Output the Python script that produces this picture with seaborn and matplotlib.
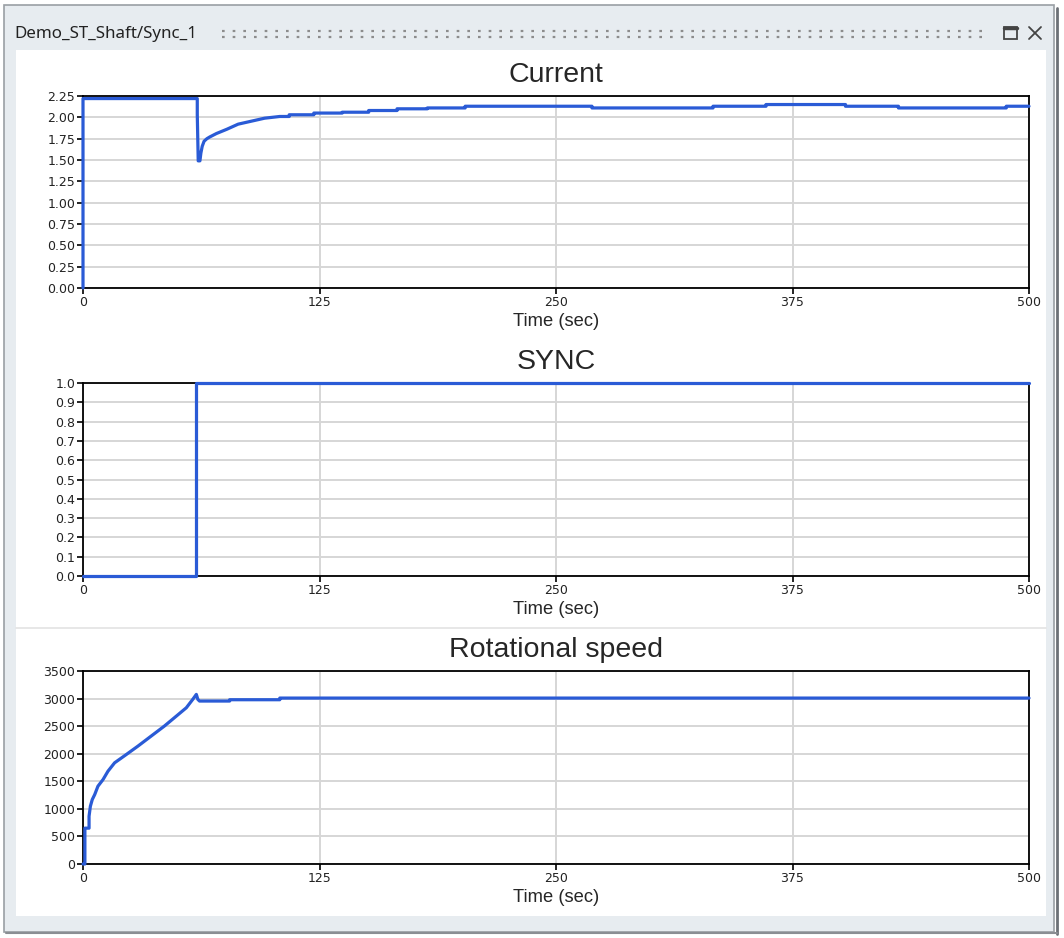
import numpy as np
import pandas as pd
import matplotlib
matplotlib.use("Agg")
import matplotlib.pyplot as plt
from matplotlib.lines import Line2D
from matplotlib.patches import Rectangle
import seaborn as sns

# ---- data (repeated times = vertical steps) ----
current_t = [0, 0, 60.4, 60.4, 60.9, 61.8, 62.3, 63.0, 64.0, 65.5, 67.0, 70.5, 76.0,
             82.0, 90.0, 96.0, 104.0, 109.0, 109.0, 122.0, 122.0, 137.0, 137.0, 151.0,
             151.0, 166.0, 166.0, 182.0, 182.0, 202.0, 202.0, 269.0, 269.0, 333.0,
             333.0, 361.0, 361.0, 403.0, 403.0, 431.0, 431.0, 488.0, 488.0, 500.0]
current_v = [0.0, 2.22, 2.22, 2.03, 1.49, 1.49, 1.58, 1.66, 1.72, 1.75, 1.77, 1.81, 1.86,
             1.92, 1.96, 1.99, 2.01, 2.01, 2.03, 2.03, 2.05, 2.05, 2.06, 2.06,
             2.08, 2.08, 2.10, 2.10, 2.11, 2.11, 2.13, 2.13, 2.11, 2.11,
             2.13, 2.13, 2.15, 2.15, 2.13, 2.13, 2.11, 2.11, 2.13, 2.13]

sync_t = [0, 59.8, 59.8, 500]
sync_v = [0.0, 0.0, 1.0, 1.0]

speed_t = [0, 1.0, 1.0, 3.2, 3.2, 3.9, 4.9, 6.2, 7.9, 10.6, 13.2, 16.7, 22.9, 29.0, 36.0,
           43.0, 49.3, 54.6, 58.0, 59.9, 60.7, 61.6, 77.5, 77.5, 104.0, 104.0, 500.0]
speed_v = [0, 0, 650, 650, 866, 1048, 1169, 1260, 1411, 1532, 1683, 1835, 1986, 2137, 2319,
           2501, 2681, 2833, 2985, 3076, 2985, 2955, 2955, 2979, 2979, 3009, 3009]

x_ticks = [0, 125, 250, 375, 500]
window_title = "Demo_ST_Shaft/Sync_1"

panels = [
    ("Current", current_t, current_v, np.arange(0, 2.26, 0.25), "{:.2f}"),
    ("SYNC", sync_t, sync_v, np.arange(0, 1.01, 0.1), "{:.1f}"),
    ("Rotational speed", speed_t, speed_v, np.arange(0, 3501, 500), "{:.0f}"),
]

sns.set_style("white")
plt.rcParams["font.family"] = ["DejaVu Sans"]

W, H = 1064, 938
fig = plt.figure(figsize=(W / 100, H / 100), dpi=100)
fig.patch.set_facecolor("white")


def fx(x):
    return x / W


def fy(y):
    return 1 - y / H


# window chrome
fig.add_artist(Rectangle((fx(4), fy(932)), fx(1054) - fx(4), fy(5) - fy(932),
                         facecolor="#e7ecf0", edgecolor="#9a9fa4", lw=1.2,
                         transform=fig.transFigure, zorder=0))
fig.add_artist(Rectangle((fx(16), fy(916)), fx(1046) - fx(16), fy(50) - fy(916),
                         facecolor="white", edgecolor="none",
                         transform=fig.transFigure, zorder=0))
fig.add_artist(Line2D([fx(1057), fx(1057)], [fy(8), fy(934)], color="#6d7177", lw=2,
                      transform=fig.transFigure))
fig.add_artist(Line2D([fx(6), fx(1057)], [fy(933), fy(933)], color="#8a8e93", lw=1.5,
                      transform=fig.transFigure))
fig.add_artist(Line2D([fx(16), fx(1046)], [fy(628), fy(628)], color="#e3e3e3", lw=1.2,
                      transform=fig.transFigure))
fig.text(fx(14), fy(34), window_title, family=["Noto Sans", "DejaVu Sans"], fontsize=12.2,
         color="#222222", va="center", ha="left")
for yy in (31, 37):
    fig.add_artist(Line2D([fx(222), fx(985)], [fy(yy), fy(yy)], color="#8c8c8c", lw=1.6,
                          linestyle=(0, (1.2, 3.6)), transform=fig.transFigure))
# maximize / close glyphs
fig.add_artist(Rectangle((fx(1004), fy(39)), fx(1017) - fx(1004), fy(27) - fy(39),
                         facecolor="none", edgecolor="#444444", lw=1.3,
                         transform=fig.transFigure))
fig.add_artist(Line2D([fx(1004), fx(1017)], [fy(28.5), fy(28.5)], color="#444444", lw=2.5,
                      transform=fig.transFigure))
fig.add_artist(Line2D([fx(1029), fx(1041)], [fy(27), fy(39)], color="#444444", lw=1.3,
                      transform=fig.transFigure))
fig.add_artist(Line2D([fx(1029), fx(1041)], [fy(39), fy(27)], color="#444444", lw=1.3,
                      transform=fig.transFigure))

# axes boxes in pixel coords: (top, bottom)
boxes = [(96, 288), (383, 576), (671, 864)]
left, right = 83, 1029
line_color = "#2a5bd6"

for (title, t, v, yticks, fmt), (top, bot) in zip(panels, boxes):
    ax = fig.add_axes([fx(left), fy(bot), fx(right) - fx(left), fy(top) - fy(bot)])
    df = pd.DataFrame({"t": t, "v": v})
    sns.lineplot(data=df, x="t", y="v", ax=ax, estimator=None, sort=False,
                 color=line_color, lw=2.3, clip_on=False, zorder=5)
    ax.set_xlim(0, 500)
    ax.set_ylim(yticks[0], yticks[-1])
    ax.set_xticks(x_ticks)
    ax.set_xticklabels([str(x) for x in x_ticks])
    ax.set_yticks(yticks)
    ax.set_yticklabels([fmt.format(y) for y in yticks])
    ax.grid(True, color="#d6d6d6", lw=1.4)
    ax.set_axisbelow(True)
    for s in ax.spines.values():
        s.set_visible(True)
        s.set_color("black")
        s.set_linewidth(1.3)
    ax.tick_params(axis="both", direction="out", length=4, width=1.2, color="black",
                   labelsize=9, labelcolor="#222222", pad=1.5, left=True, bottom=True)
    ax.set_title(title, family=["Liberation Sans", "DejaVu Sans"], fontsize=20.5, pad=10)
    ax.set_xlabel("Time (sec)", family=["Liberation Sans", "DejaVu Sans"], fontsize=13.2)
    ax.xaxis.set_label_coords(0.5, -0.13)
    ax.set_ylabel("")

fig.savefig("out.png", dpi=100)
